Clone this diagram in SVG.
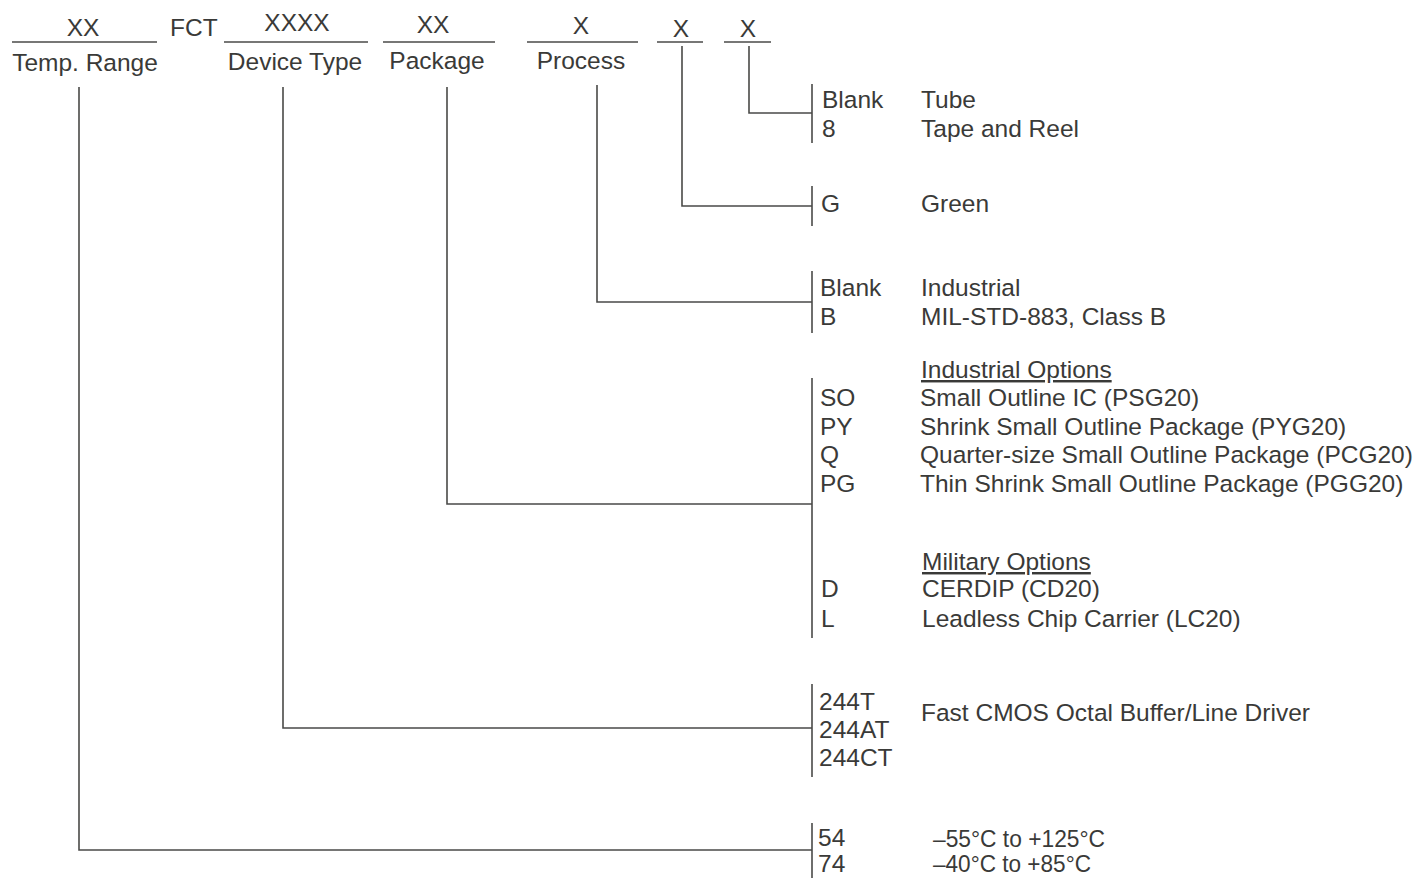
<svg xmlns="http://www.w3.org/2000/svg" width="1420" height="878" viewBox="0 0 1420 878">
<style>
text{font-family:"Liberation Sans",Arial,Helvetica,sans-serif;font-size:24.5px;fill:#3a3a38}
.c{text-anchor:middle}
line,path{stroke:#4a4a48;stroke-width:1.6;fill:none}
.u{text-decoration:underline}
</style>
<rect width="1420" height="878" fill="#fff"/>
<g id="header">
<text class="c" x="83" y="36">XX</text>
<text x="170" y="36">FCT</text>
<text class="c" x="297" y="31">XXXX</text>
<text class="c" x="433" y="33">XX</text>
<text class="c" x="581" y="34">X</text>
<text class="c" x="681" y="37">X</text>
<text class="c" x="748" y="37">X</text>
<line x1="12" y1="42" x2="157" y2="42"/>
<line x1="224" y1="42" x2="368" y2="42"/>
<line x1="383" y1="42" x2="495" y2="42"/>
<line x1="527" y1="42" x2="638" y2="42"/>
<line x1="657" y1="42" x2="703" y2="42"/>
<line x1="724" y1="42" x2="771" y2="42"/>
<text class="c" x="85" y="71">Temp. Range</text>
<text class="c" x="295" y="70">Device Type</text>
<text class="c" x="437" y="69">Package</text>
<text class="c" x="581" y="69">Process</text>
</g>
<g id="connectors">
<path d="M749 46V113H812"/>
<path d="M682 46V206H812"/>
<path d="M597 85V302H812"/>
<path d="M447 87V504H812"/>
<path d="M283 87V728H812"/>
<path d="M79 87V850H812"/>
<line x1="812" y1="84" x2="812" y2="143"/>
<line x1="812" y1="186" x2="812" y2="226"/>
<line x1="812" y1="271" x2="812" y2="333"/>
<line x1="812" y1="378" x2="812" y2="638"/>
<line x1="812" y1="684" x2="812" y2="777"/>
<line x1="812" y1="823" x2="812" y2="878"/>
</g>
<g id="packing">
<text x="822" y="108">Blank</text><text x="921" y="108">Tube</text>
<text x="822" y="137">8</text><text x="921" y="137">Tape and Reel</text>
</g>
<g id="green">
<text x="821" y="212">G</text><text x="921" y="212">Green</text>
</g>
<g id="process">
<text x="820" y="296">Blank</text><text x="921" y="296">Industrial</text>
<text x="820" y="325">B</text><text x="921" y="325">MIL-STD-883, Class B</text>
</g>
<g id="package">
<text class="u" x="921" y="378">Industrial Options</text>
<text x="820" y="406">SO</text><text x="920" y="406">Small Outline IC (PSG20)</text>
<text x="820" y="435">PY</text><text x="920" y="435">Shrink Small Outline Package (PYG20)</text>
<text x="820" y="463">Q</text><text x="920" y="463">Quarter-size Small Outline Package (PCG20)</text>
<text x="820" y="492">PG</text><text x="920" y="492">Thin Shrink Small Outline Package (PGG20)</text>
<text class="u" x="922" y="570">Military Options</text>
<text x="821" y="597">D</text><text x="922" y="597">CERDIP (CD20)</text>
<text x="821" y="627">L</text><text x="922" y="627">Leadless Chip Carrier (LC20)</text>
</g>
<g id="device">
<text x="819" y="710">244T</text>
<text x="819" y="738">244AT</text>
<text x="819" y="766">244CT</text>
<text x="921" y="721">Fast CMOS Octal Buffer/Line Driver</text>
</g>
<g id="temp">
<text x="818" y="846">54</text><text x="933" y="847" textLength="172" lengthAdjust="spacingAndGlyphs">–55°C to +125°C</text>
<text x="818" y="872">74</text><text x="933" y="872" textLength="158" lengthAdjust="spacingAndGlyphs">–40°C to +85°C</text>
</g>
</svg>
